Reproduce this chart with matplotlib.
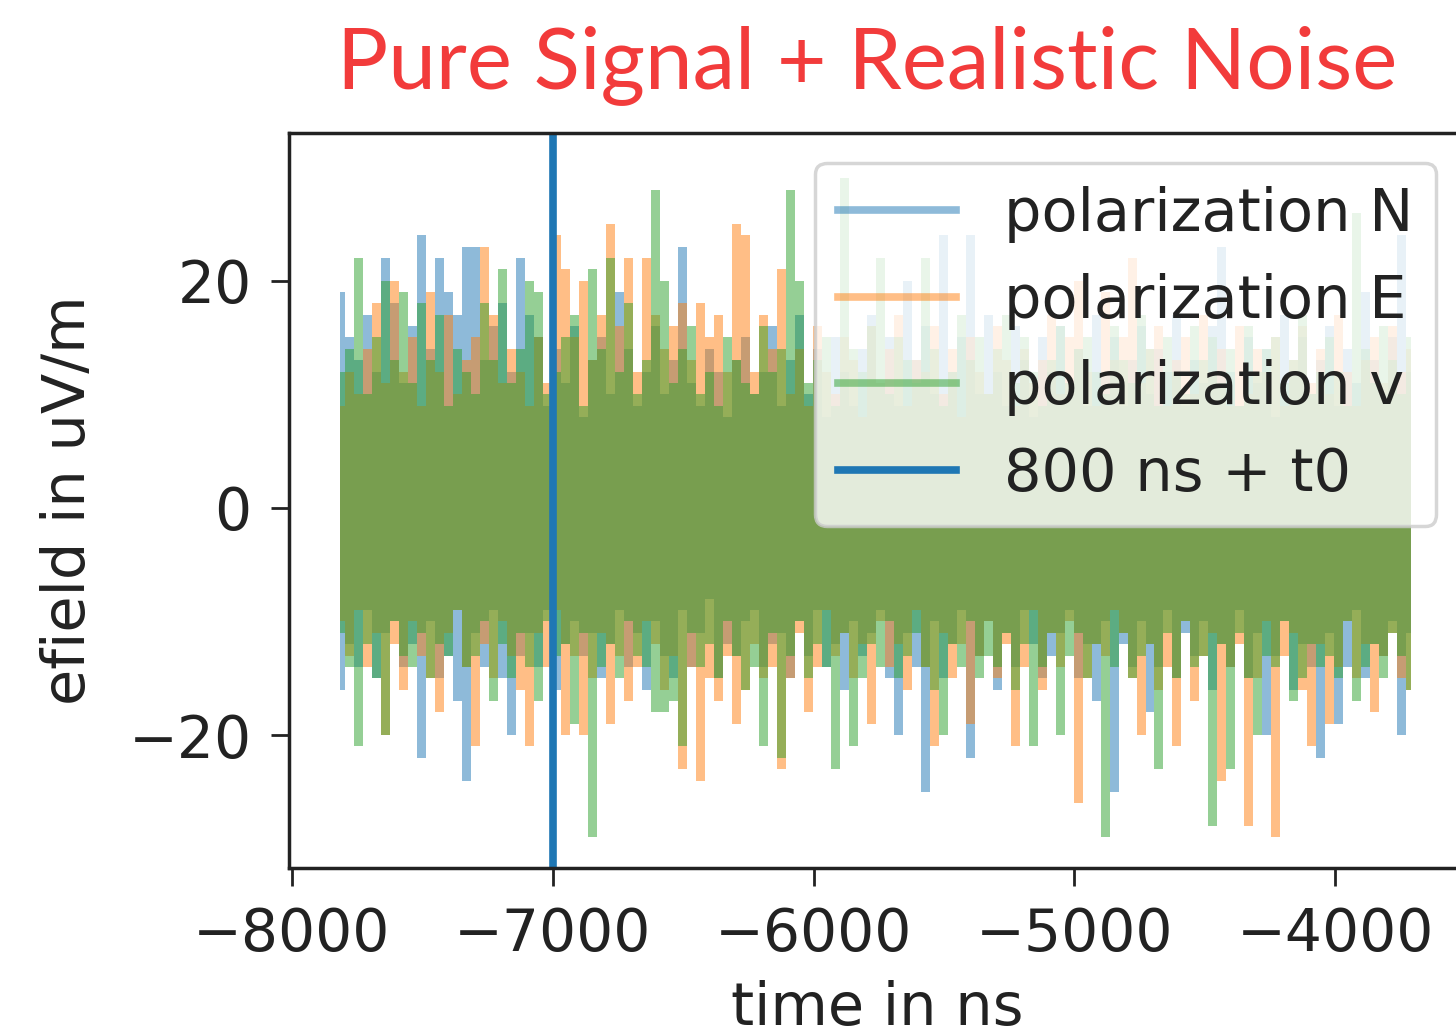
import numpy as np
import matplotlib.pyplot as plt
from matplotlib.lines import Line2D

# time window of the noise trace (ns), one value per bin
t_first, t_last = -7815, -3710
t_marker = -7000  # 800 ns + t0

# upper / lower envelope of each polarization trace (uV/m)
n_hi = [19, 15, 13, 17, 12, 22, 18, 11, 16, 24,
        14, 22, 19, 17, 23, 23, 13, 16, 18, 12,
        22, 17, 15, 9, 14, 11, 16, 8, 13, 15,
        10, 19, 14, 9, 12, 16, 10, 13, 23, 11,
        9, 14, 12, 8, 13, 15, 10, 12, 16, 9,
        13, 17, 10, 14, 8, 15, 12, 9, 14, 17,
        11, 15, 9, 20, 13, 16, 10, 24, 12, 15,
        24, 10, 17, 12, 9, 16, 13, 8, 15, 12,
        16, 10, 14, 9, 17, 12, 15, 9, 13, 16,
        10, 14, 12, 17, 9, 13, 11, 16, 23, 12,
        9, 15, 11, 14, 8, 17, 12, 15, 10, 13,
        16, 9, 14, 11, 19, 13, 10, 15, 24, 12]
n_lo = [-16, -12, -14, -9, -15, -11, -10, -14, -12, -22,
        -10, -15, -13, -17, -24, -11, -14, -9, -15, -20,
        -13, -11, -14, -9, -16, -12, -10, -13, -11, -15,
        -12, -9, -14, -11, -16, -10, -13, -15, -9, -14,
        -11, -8, -15, -12, -13, -10, -9, -14, -12, -11,
        -15, -10, -13, -9, -14, -12, -16, -10, -13, -11,
        -9, -15, -20, -11, -14, -25, -10, -15, -12, -9,
        -22, -13, -10, -16, -11, -14, -9, -12, -15, -13,
        -11, -9, -15, -12, -17, -10, -25, -12, -14, -10,
        -18, -14, -9, -15, -11, -13, -10, -16, -12, -14,
        -9, -15, -11, -20, -13, -10, -16, -12, -14, -22,
        -11, -19, -14, -9, -15, -12, -13, -10, -20, -11]

e_hi = [9, 12, 10, 14, 18, 11, 20, 12, 15, 9,
        19, 12, 17, 10, 13, 15, 23, 17, 11, 14,
        12, 9, 15, 11, 24, 21, 15, 20, 13, 17,
        25, 16, 22, 12, 22, 17, 14, 16, 18, 13,
        18, 15, 17, 12, 25, 24, 12, 17, 14, 21,
        10, 14, 9, 16, 12, 10, 15, 13, 8, 16,
        11, 14, 17, 9, 13, 12, 16, 10, 14, 8,
        15, 12, 10, 16, 13, 9, 14, 11, 13, 17,
        10, 15, 20, 12, 9, 19, 13, 15, 22, 11,
        14, 16, 9, 13, 15, 10, 17, 12, 14, 9,
        16, 10, 14, 12, 15, 9, 13, 16, 11, 14,
        10, 17, 12, 9, 13, 15, 11, 16, 12, 14]
e_lo = [-10, -13, -9, -14, -11, -20, -12, -16, -10, -13,
        -15, -18, -11, -9, -14, -21, -12, -15, -10, -13,
        -16, -21, -11, -14, -9, -20, -13, -20, -15, -11,
        -19, -13, -17, -14, -10, -12, -16, -13, -23, -14,
        -24, -15, -17, -13, -19, -16, -12, -15, -14, -23,
        -15, -11, -18, -14, -9, -13, -11, -15, -12, -19,
        -10, -14, -12, -16, -9, -14, -21, -11, -15, -12,
        -19, -13, -10, -15, -12, -21, -14, -9, -16, -11,
        -14, -10, -26, -15, -12, -13, -9, -11, -15, -20,
        -12, -16, -14, -21, -10, -17, -13, -11, -24, -14,
        -12, -28, -15, -10, -29, -13, -11, -16, -21, -12,
        -19, -14, -10, -15, -12, -18, -13, -11, -15, -16]

v_hi = [12, 14, 22, 10, 15, 20, 13, 19, 11, 18,
        13, 17, 9, 14, 12, 10, 18, 13, 21, 11,
        14, 20, 19, 10, 12, 15, 17, 9, 21, 14,
        22, 12, 18, 10, 13, 28, 20, 11, 14, 16,
        10, 12, 9, 15, 13, 11, 10, 16, 12, 14,
        28, 20, 11, 13, 15, 9, 29, 14, 12, 16,
        22, 10, 15, 13, 11, 22, 14, 9, 12, 17,
        13, 15, 10, 14, 17, 11, 15, 12, 9, 13,
        16, 11, 14, 15, 12, 10, 16, 13, 11, 17,
        14, 9, 15, 12, 10, 16, 13, 15, 11, 14,
        9, 16, 12, 14, 15, 11, 13, 17, 10, 12,
        15, 12, 9, 26, 14, 11, 16, 13, 10, 15]
v_lo = [-11, -14, -21, -12, -15, -20, -10, -13, -14, -11,
        -15, -12, -13, -9, -14, -13, -10, -17, -12, -15,
        -11, -14, -17, -10, -13, -12, -19, -11, -29, -14,
        -12, -15, -10, -13, -14, -18, -18, -17, -21, -11,
        -14, -12, -15, -10, -13, -16, -14, -21, -11, -22,
        -13, -10, -15, -12, -14, -23, -11, -21, -15, -12,
        -14, -10, -15, -13, -11, -14, -16, -20, -12, -14,
        -10, -15, -13, -14, -11, -16, -12, -21, -14, -11,
        -20, -13, -11, -15, -12, -29, -14, -11, -15, -13,
        -12, -23, -11, -15, -10, -14, -13, -28, -12, -23,
        -11, -15, -20, -13, -14, -10, -17, -15, -12, -14,
        -13, -15, -10, -17, -14, -12, -15, -11, -13, -16]

labels = ['polarization N', 'polarization E', 'polarization v', '800 ns + t0']
colors = ['#1f77b4', '#ff7f0e', '#2ca02c']

FS = 42.5

fig = plt.figure(figsize=(14.56, 10.34), dpi=100)
ax = fig.add_axes([289/1456, 166/1034, 1177/1456, 735/1034])

times = np.linspace(t_first, t_last, len(n_hi))
for lo, hi, c in zip([n_lo, e_lo, v_lo], [n_hi, e_hi, v_hi], colors):
    ax.fill_between(times, lo, hi, step='mid', color=c, alpha=0.5, lw=0)
ax.axvline(t_marker, color='#1f77b4', lw=5.5)

ax.set_xlim(-8011, -3499)
ax.set_ylim(-31.7, 33.0)
ax.set_xticks([-8000, -7000, -6000, -5000, -4000])
ax.set_yticks([-20, 0, 20])

for s in ax.spines.values():
    s.set_linewidth(2.5)
    s.set_color('#222222')
ax.tick_params(labelsize=42, length=13, width=2, pad=14, colors='#222222')

ax.set_xlabel('time in ns', fontsize=FS, color='#222222')
ax.set_ylabel('efield in uV/m', fontsize=FS, color='#222222')
ax.xaxis.set_label_coords(0.5, -0.152)
ax.yaxis.set_label_coords(-0.163, 0.5)

handles = [Line2D([], [], color=c, alpha=0.5, lw=5.5) for c in colors]
handles.append(Line2D([], [], color='#1f77b4', lw=5.5))
leg = ax.legend(handles, labels, loc='upper right', fontsize=FS, framealpha=0.8)
leg.get_frame().set_linewidth(2.5)
for txt in leg.get_texts():
    txt.set_color('#222222')

fig.text(0.5957, 1 - 88/1034, 'Pure Signal + Realistic Noise', family='Lato',
         fontsize=61.5, color='#f23b3b', ha='center', va='baseline')

fig.savefig('out.png', dpi=100)
